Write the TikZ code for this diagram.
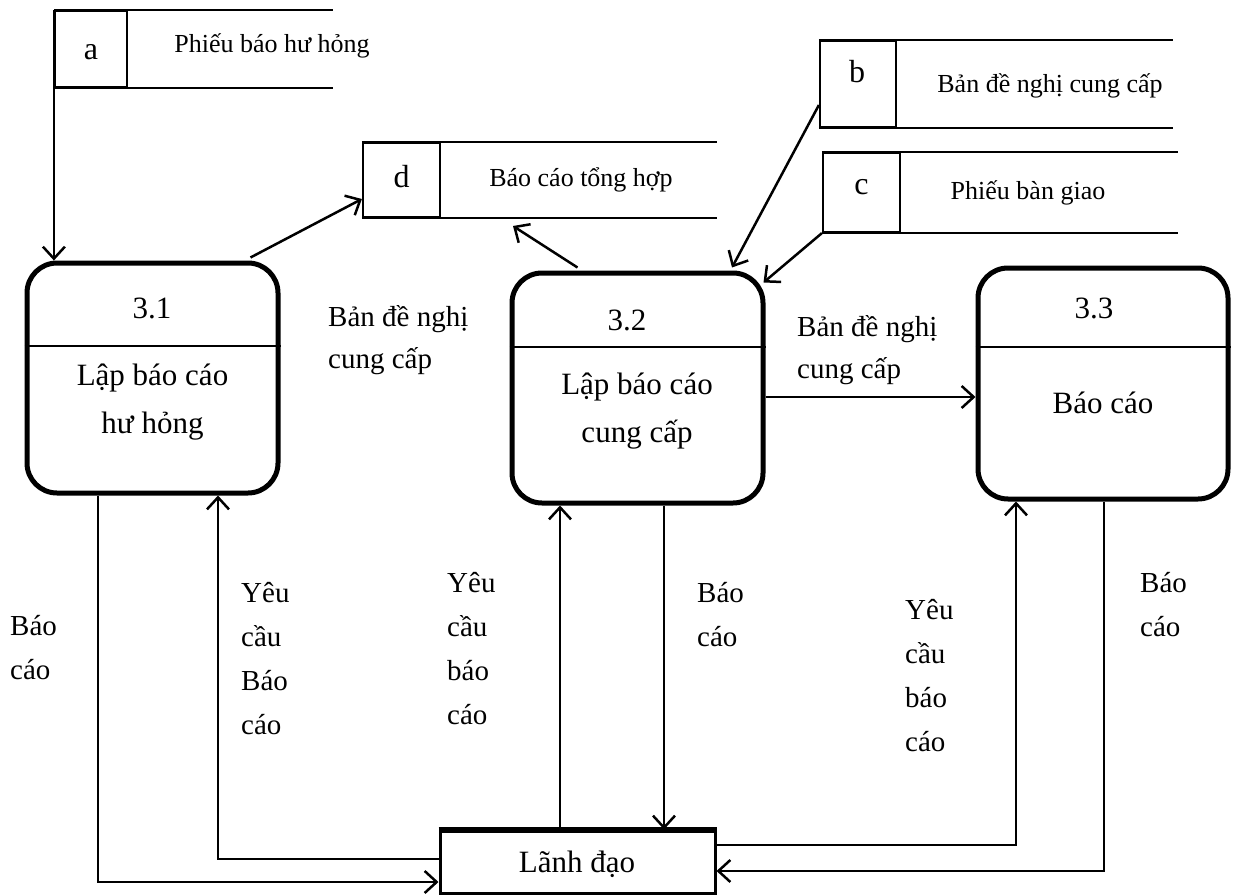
\documentclass[tikz,border=0pt]{standalone}
\usepackage{fontspec}
\setmainfont{Liberation Serif}
\usetikzlibrary{arrows.meta}
\begin{document}
\begin{tikzpicture}[x=1pt,y=-1pt,
  proc/.style={draw, rounded corners=30pt, line width=5pt, inner sep=0pt, minimum height=230pt, minimum width=251pt},
  divider/.style={line width=1.6pt},
  idbox/.style={draw, line width=2.2pt, inner sep=0pt},
  sline/.style={line width=2.2pt},
  idtext/.style={anchor=base, inner sep=0pt, font=\fontsize{32}{36}\selectfont},
  stext/.style={anchor=base, inner sep=0pt, font=\fontsize{26}{30}\selectfont},
  ptext/.style={anchor=base, inner sep=0pt, align=center, font=\fontsize{31}{48}\selectfont},
  flow/.style={anchor=base west, inner sep=0pt, align=left, font=\fontsize{29}{44}\selectfont},
  flowtwo/.style={anchor=base west, inner sep=0pt, align=left, font=\fontsize{29}{42}\selectfont},
  arr/.style={line width=2.5pt, -{Straight Barb[length=12pt,width=22pt]}}
]
\path[use as bounding box] (0,0) rectangle (1239,896);

% data stores
\node[idbox, minimum width=72pt, minimum height=76pt] (sa) at (91,49) {};
\draw[sline] (sa.north west) -- ++(279,0) (sa.south west) -- ++(279,0);
\node[idtext] (la) at (91,60) {a};
\node[stext] (ta) at (272,53) {Phiếu báo hư hỏng};

\node[idbox, minimum width=77pt, minimum height=74pt] (sd) at (401.5,180) {};
\draw[sline] (sd.north west) -- ++(355,0) (sd.south west) -- ++(355,0);
\node[idtext] (ld) at (401.5,188) {d};
\node[stext] (td) at (581,187) {Báo cáo tổng hợp};

\node[idbox, minimum width=76pt, minimum height=86pt] (sb) at (858,84) {};
\draw[sline] (sb.north west) -- ++(354,0) (sb.south west) -- ++(354,0);
\node[idtext] (lb) at (857,83) {b};
\node[stext] (tb) at (1050,93) {Bản đề nghị cung cấp};

\node[idbox, minimum width=77pt, minimum height=79pt] (sc) at (861.5,192.5) {};
\draw[sline] (sc.north west) -- ++(356,0) (sc.south west) -- ++(356,0);
\node[idtext] (lc) at (861.5,195) {c};
\node[stext] (tc) at (1028,200) {Phiếu bàn giao};

\coordinate (dIn) at (513,226);

% processes
\node[proc] (p1) at (152.5,378) {};
\draw[divider] (p1.west |- 0,346) -- (p1.east |- 0,346);
\node[ptext] (n1) at (152,318) {3.1};
\node[ptext] (t1) at (152.5,433) {Lập báo cáo\\hư hỏng};

\node[proc] (p2) at (637.5,388) {};
\draw[divider] (p2.west |- 0,347) -- (p2.east |- 0,347);
\node[ptext] (n2) at (627,330) {3.2};
\node[ptext] (t2) at (637,442) {Lập báo cáo\\cung cấp};

\node[proc, minimum width=250pt, minimum height=231pt] (p3) at (1103,383.5) {};
\draw[divider] (p3.west |- 0,347) -- (p3.east |- 0,347);
\node[ptext] (n3) at (1094,318) {3.3};
\node[ptext] (t3) at (1103,413) {Báo cáo};

% external entity
\node[draw, line width=3pt, inner sep=0pt, minimum width=275pt, minimum height=62pt] (L) at (577.5,862) {};
\draw[line width=5pt] (L.north west) -- (L.north east);
\node[ptext] (tL) at (577,872) {Lãnh đạo};

% flows
\draw[arr] (sa.north west) -- (sa.north west |- p1.north);
\draw[arr] ([xshift=-30pt,yshift=3pt]p1.north east) -- ([yshift=-19pt]sd.west);
\draw[arr] ([xshift=-60pt,yshift=3pt]p2.north) -- (dIn);
\draw[arr] ([yshift=-21pt]sb.west) -- ([xshift=94.5pt,yshift=3pt]p2.north);
\draw[arr] (sc.south west) -- ([xshift=-2pt,yshift=-12pt]p2.north east);
\draw[arr] ([yshift=-9pt]p2.east) -- ([yshift=-13.5pt]p3.west);

\draw[arr] ([xshift=-54.5pt]p1.south) |- ([yshift=-20pt]L.west);
\draw[arr] ([yshift=3pt]L.west) -| ([xshift=65.5pt]p1.south);
\draw[arr] ([xshift=-17.5pt]L.north) -- ([xshift=-77.5pt]p2.south);
\draw[arr] ([xshift=26.5pt]p2.south) -- ([xshift=86.5pt]L.north);
\draw[arr] ([yshift=17pt]L.east) -| ([xshift=-87pt]p3.south);
\draw[arr] ([xshift=1pt]p3.south) |- ([yshift=-9pt]L.east);

% flow labels
\node[flowtwo] (f1) at (328,368) {Bản đề nghị\\cung cấp};
\node[flowtwo] (f2) at (797,378) {Bản đề nghị\\cung cấp};
\node[flow] (v1) at (10,679) {Báo\\cáo};
\node[flow] (v2) at (241,734) {Yêu\\cầu\\Báo\\cáo};
\node[flow] (v3) at (447,724) {Yêu\\cầu\\báo\\cáo};
\node[flow] (v4) at (697,646) {Báo\\cáo};
\node[flow] (v5) at (905,751) {Yêu\\cầu\\báo\\cáo};
\node[flow] (v6) at (1140,636) {Báo\\cáo};
\end{tikzpicture}
\end{document}
